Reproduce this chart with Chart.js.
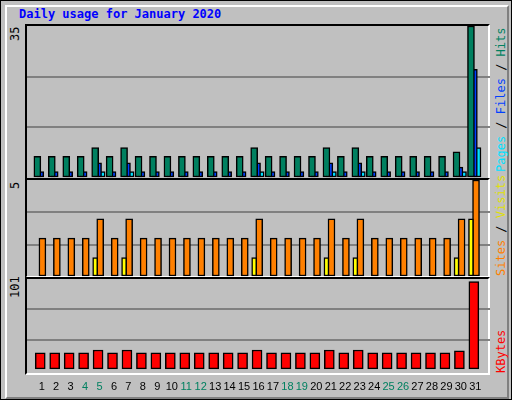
<!DOCTYPE html>
<html><head>
<script src="https://cdn.jsdelivr.net/npm/chart.js@4"></script>
<style>
body{margin:0;background:#fff}
#frame{position:absolute;left:0;top:0;width:510px;height:398px;background:#c0c0c0;border:1px solid #000}
#inner{position:absolute;left:4px;top:4px;width:500px;height:390px;border-right:2px solid #808080;border-bottom:2px solid #808080;border-left:2px solid #fff;border-top:2px solid #fff}
.panel{position:absolute;left:25px;width:465px;border-left:2px solid #000;border-top:2px solid #000;border-right:2px solid #fff;border-bottom:2px solid #fff;box-sizing:border-box}
.t{position:absolute;font-family:"DejaVu Sans Mono",monospace;font-size:12px;white-space:nowrap}
.v{position:absolute;font-family:"DejaVu Sans Mono",monospace;font-size:12px;transform-origin:left top;transform:rotate(-90deg);white-space:nowrap}
canvas{position:absolute}
</style></head><body>
<div id="frame"><div id="inner"></div></div>
<div class="t" style="left:19px;top:7px;color:#0000ff;font-weight:bold">Daily usage for January 2020</div>
<div class="panel" style="top:24px;height:156px"></div>
<div class="panel" style="top:178px;height:100px"></div>
<div class="panel" style="top:277px;height:98px"></div>
<div class="v" style="left:8px;top:41px">35</div>
<div class="v" style="left:8px;top:189px">5</div>
<div class="v" style="left:8px;top:298px">101</div>
<div class="v" style="left:494px;top:172px"><span style="color:#00e0ff">Pages</span> / <span style="color:#0040ff">Files</span> / <span style="color:#008060">Hits</span></div>
<div class="v" style="left:494px;top:276px"><span style="color:#ff8000">Sites</span> / <span style="color:#e0e000">Visits</span></div>
<div class="v" style="left:494px;top:373px"><span style="color:#ff0000">KBytes</span></div>
<canvas id="c1" style="left:27px;top:26px;width:463px;height:152px"></canvas>
<canvas id="c2" style="left:27px;top:180px;width:463px;height:97px"></canvas>
<canvas id="c3" style="left:27px;top:279px;width:463px;height:118px"></canvas>
<script>
const days = Array.from({length: 31}, (_, i) => i + 1);
const weekendDays = [4, 5, 11, 12, 18, 19, 25, 26];
const hits   = [5,5,5,5,7,5,7,5,5,5,5,5,5,5,5,7,5,5,5,5,7,5,7,5,5,5,5,5,5,6,35];
const files  = [1.5,1.5,1.5,1.5,3.5,1.5,3.5,1.5,1.5,1.5,1.5,1.5,1.5,1.5,1.5,3.5,1.5,1.5,1.5,1.5,3.5,1.5,3.5,1.5,1.5,1.5,1.5,1.5,1.5,2.5,25];
const pages  = [0,0,0,0,1.5,0,1.5,0,0,0,0,0,0,0,0,1.5,0,0,0,0,1.5,0,1.5,0,0,0,0,0,0,1.5,7];
const visits = [2,2,2,2,3,2,3,2,2,2,2,2,2,2,2,3,2,2,2,2,3,2,3,2,2,2,2,2,2,3,5];
const sites  = [0,0,0,0,1,0,1,0,0,0,0,0,0,0,0,1,0,0,0,0,1,0,1,0,0,0,0,0,0,1,3];
const kbytes = [19,19,19,19,22,19,22,19,19,19,19,19,19,19,19,22,19,19,19,19,22,19,22,19,19,19,19,19,19,21,98];

function pts(vals, off) { return vals.map((v, i) => ({x: days[i] + off, y: v})); }
function ds(vals, off, color, w) {
    return {data: pts(vals, off), backgroundColor: color, borderColor: '#000', borderWidth: 1.5,
            borderSkipped: false, barThickness: w, grouped: false};
}
function makeChart(id, datasets, max, showX) {
    new Chart(document.getElementById(id), {
        type: 'bar',
        data: {datasets: datasets},
        options: {
            responsive: false, animation: false,
            layout: {padding: 0},
            plugins: {legend: {display: false}, tooltip: {enabled: false}},
            scales: {
                x: {type: 'linear', min: 0.5, max: 31.5, display: showX,
                    grid: {display: false}, border: {display: false},
                    afterBuildTicks: ax => { ax.ticks = days.map(d => ({value: d})); },
                    ticks: {autoSkip: false, maxRotation: 0, padding: 3,
                            font: {family: 'Liberation Sans', size: 11},
                            color: c => weekendDays.includes(c.tick.value) ? '#008060' : '#000'}},
                y: {min: 0, max: max, display: true,
                    afterBuildTicks: ax => { ax.ticks = [0, max / 3, max * 2 / 3, max].map(v => ({value: v})); },
                    ticks: {display: false}, border: {display: false},
                    grid: {color: c => (c.tick.value > 0 && c.tick.value < max) ? '#808080' : 'transparent', lineWidth: 2, drawTicks: false}}
            }
        }
    });
}
makeChart('c1', [ds(hits, -0.3, '#008060', 7), ds(files, -0.1, '#0040ff', 7), ds(pages, 0.15, '#00e0ff', 7)], 35, false);
makeChart('c2', [ds(sites, -0.3, '#ffff00', 5), ds(visits, 0.05, '#ff8000', 7)], 5, false);
makeChart('c3', [ds(kbytes, -0.1, '#ff0000', 10)], 101, true);
</script>
</body></html>
